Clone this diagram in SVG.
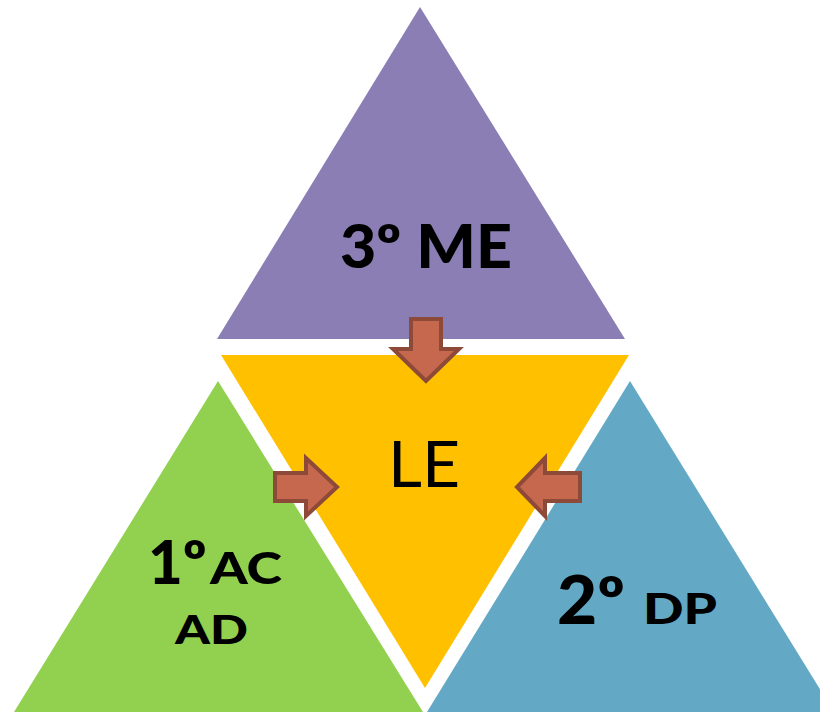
<svg xmlns="http://www.w3.org/2000/svg" width="820" height="713" viewBox="0 0 820 713">
<style>
.t{font-family:Lato,"Open Sans",sans-serif;font-weight:900;fill:#000}
.arr{fill:#C5684D;stroke:#8E4A38;stroke-width:4;stroke-linejoin:miter}
</style>
<rect width="820" height="713" fill="#fff"/>
<g id="me">
<polygon points="420,7 625,339 217,339" fill="#8A7EB4"/>
<text class="t" x="340" y="268" font-size="60" textLength="172" lengthAdjust="spacingAndGlyphs">3º ME</text>
</g>
<g id="le">
<polygon points="221,355 629,355 425,688" fill="#FFC000"/>
<text x="388" y="487" font-size="64" textLength="72" lengthAdjust="spacingAndGlyphs" font-family="Lato,'Open Sans',sans-serif" fill="#000">LE</text>
</g>
<g id="ac">
<polygon points="218,381 423,712 14,712" fill="#92D050"/>
<text class="t" x="148" y="584" font-size="60">1º</text>
<text class="t" x="210" y="584" font-size="43" textLength="72" lengthAdjust="spacingAndGlyphs">AC</text>
<text class="t" x="175" y="644" font-size="40" textLength="73" lengthAdjust="spacingAndGlyphs">AD</text>
</g>
<g id="dp">
<polygon points="630,381 834,712 427,712" fill="#63A9C5"/>
<text class="t" x="557" y="624" font-size="66" textLength="68" lengthAdjust="spacingAndGlyphs">2º</text>
<text class="t" x="643" y="624" font-size="42" textLength="74" lengthAdjust="spacingAndGlyphs">DP</text>
</g>
<g id="connectors">
<polygon class="arr" points="411,319 441,319 441,349 459,349 426,381 393,349 411,349"/>
<polygon class="arr" points="275,473 306,473 306,458 337,487 306,516 306,501 275,501"/>
<polygon class="arr" points="580,473 545,473 545,458 517,487 545,516 545,501 580,501"/>
</g>
</svg>
